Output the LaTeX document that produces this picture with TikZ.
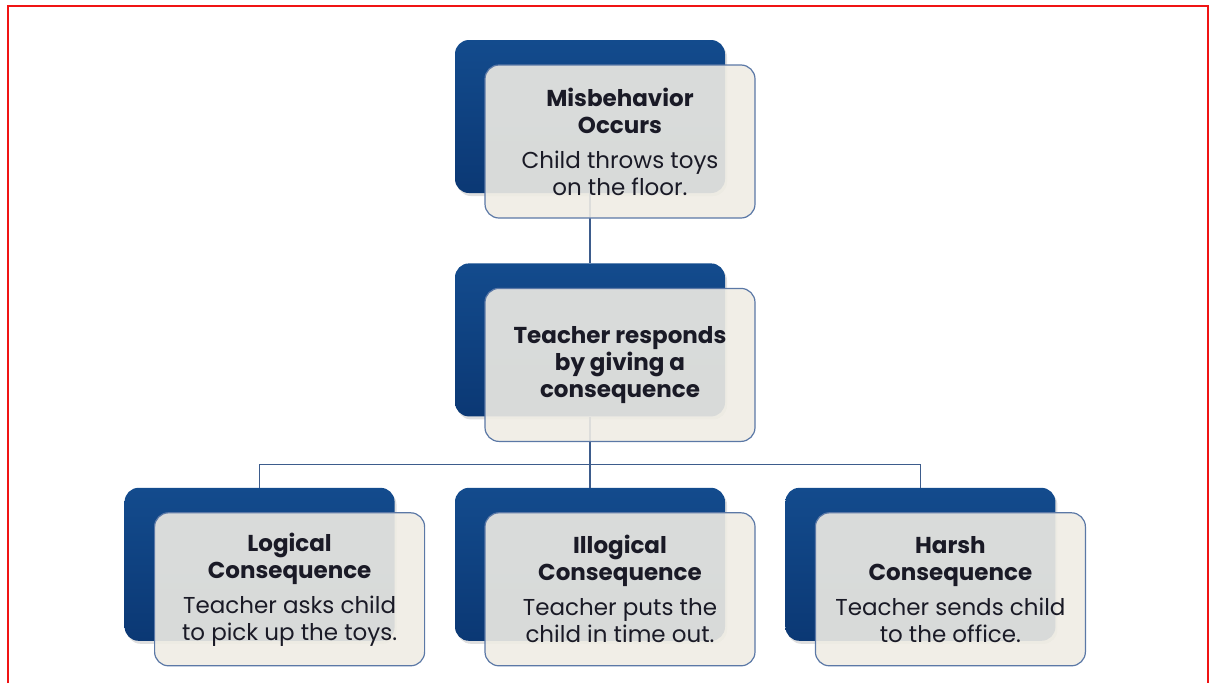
\documentclass[tikz,border=0pt]{standalone}
\usepackage{fontspec}
\setmainfont{Poppins}
\usepackage{tikz}
\usetikzlibrary{positioning,shadows}
\definecolor{backblue}{HTML}{134B8D}
\definecolor{backdark}{HTML}{0B3874}
\definecolor{frontfill}{HTML}{EFECE4}
\definecolor{frontedge}{HTML}{5B78A6}
\definecolor{linkblue}{HTML}{3D5C8C}
\definecolor{textdark}{HTML}{1A1A26}
\definecolor{framered}{HTML}{F01414}

\begin{document}
\begin{tikzpicture}[
    x=1pt, y=-1pt,
    node distance=60pt,
    font=\fontsize{23}{27}\selectfont,
    backbox/.style={rounded corners=14pt, minimum width=270pt, minimum height=153pt, top color=backblue, bottom color=backdark, drop shadow={shadow xshift=2pt, shadow yshift=-3pt, opacity=0.25}},
    frontbox/.style={draw=frontedge, line width=1.2pt, rounded corners=14pt, fill=frontfill, fill opacity=0.9, text opacity=1, text=textdark, minimum width=270pt, minimum height=153pt, align=center},
    link/.style={draw=linkblue, line width=1.5pt}
]
    \useasboundingbox (0,0) rectangle (1209,683);
    \draw[framered, line width=2pt] (8,683) -- (8,6) -- (1207.5,6) -- (1207.5,683);

    % Back boxes
    \node[backbox] (misback) at (590,116.5) {};
    \node[backbox, below=70pt of misback] (respback) {};
    \node[backbox, below=71pt of respback] (illogback) {};
    \node[backbox, left=of illogback] (logicback) {};
    \node[backbox, right=of illogback] (harshback) {};

    % Connectors
    \coordinate (bus) at ([yshift=-48pt]respback.south);
    \draw[link] (misback) -- (respback);
    \draw[link] (respback.south) -- (illogback.north);
    \draw[link] (logicback.north) |- (bus) -| (harshback.north);

    % Front boxes
    \node[frontbox] (mis) at ([shift={(30,25)}]misback.center) {\textbf{Misbehavior}\\\textbf{Occurs}\\[8pt]Child throws toys\\on the floor.};
    \node[frontbox] (resp) at ([shift={(30,25)}]respback.center) {\textbf{Teacher responds}\\\textbf{by giving a}\\\textbf{consequence}};
    \node[frontbox] (logic) at ([shift={(30,25)}]logicback.center) {\textbf{Logical}\\\textbf{Consequence}\\[8pt]Teacher asks child\\to pick up the toys.};
    \node[frontbox] (illog) at ([shift={(30,25)}]illogback.center) {\textbf{Illogical}\\\textbf{Consequence}\\[8pt]Teacher puts the\\child in time out.};
    \node[frontbox] (harsh) at ([shift={(30,25)}]harshback.center) {\textbf{Harsh}\\\textbf{Consequence}\\[8pt]Teacher sends child\\to the office.};
\end{tikzpicture}
\end{document}
